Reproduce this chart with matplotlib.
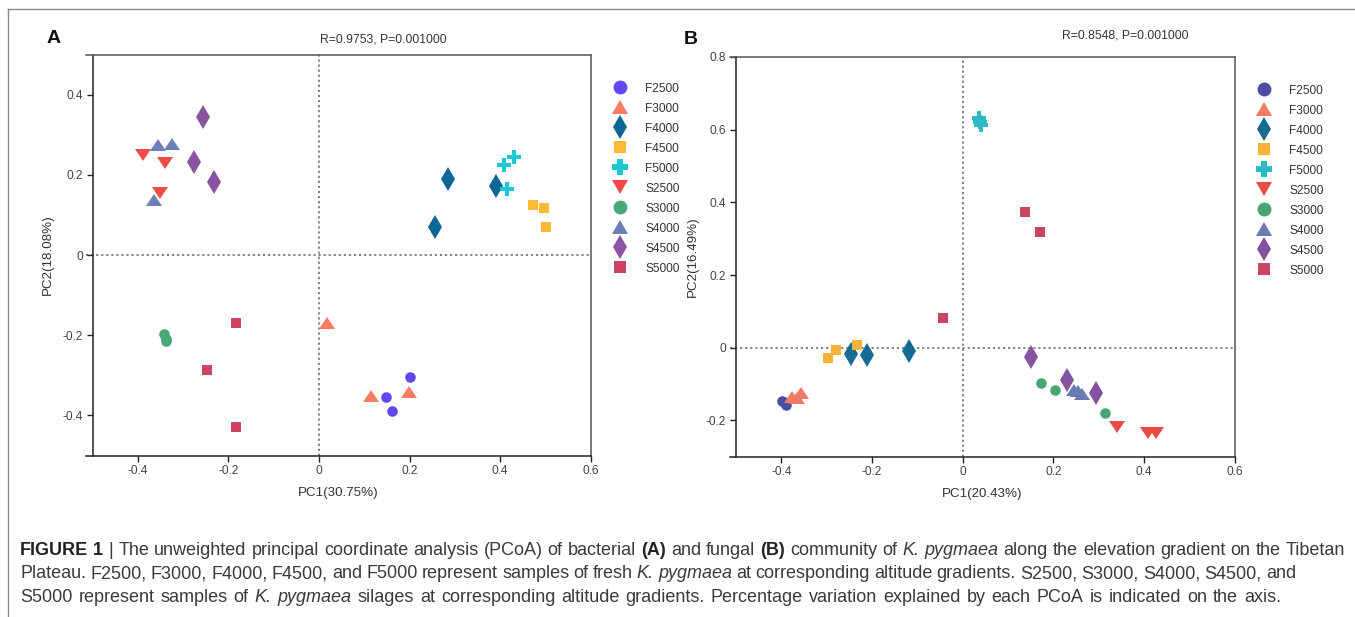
import re
import matplotlib
matplotlib.use("Agg")
import matplotlib.pyplot as plt
from matplotlib.markers import MarkerStyle
from matplotlib.transforms import Affine2D
from matplotlib.lines import Line2D

plt.rcParams['font.family'] = ['Liberation Sans', 'DejaVu Sans']

# ---------------- data ----------------
groups = ["F2500", "F3000", "F4000", "F4500", "F5000",
          "S2500", "S3000", "S4000", "S4500", "S5000"]

# Panel A (bacterial)
A_F2500_x = [0.201, 0.149, 0.162];   A_F2500_y = [-0.303, -0.353, -0.390]
A_F3000_x = [0.018, 0.114, 0.199];   A_F3000_y = [-0.169, -0.352, -0.341]
A_F4000_x = [0.284, 0.391, 0.256];   A_F4000_y = [0.189, 0.172, 0.071]
A_F4500_x = [0.472, 0.497, 0.500];   A_F4500_y = [0.125, 0.118, 0.069]
A_F5000_x = [0.409, 0.430, 0.416];   A_F5000_y = [0.224, 0.244, 0.164]
A_S2500_x = [-0.389, -0.341, -0.351]; A_S2500_y = [0.249, 0.229, 0.154]
A_S3000_x = [-0.342, -0.338, -0.337]; A_S3000_y = [-0.197, -0.214, -0.210]
A_S4000_x = [-0.355, -0.325, -0.364]; A_S4000_y = [0.274, 0.277, 0.138]
A_S4500_x = [-0.255, -0.275, -0.232]; A_S4500_y = [0.345, 0.233, 0.181]
A_S5000_x = [-0.183, -0.248, -0.183]; A_S5000_y = [-0.170, -0.288, -0.430]

# Panel B (fungal)
B_F2500_x = [-0.399, -0.390, -0.395]; B_F2500_y = [-0.146, -0.158, -0.150]
B_F3000_x = [-0.377, -0.357, -0.366]; B_F3000_y = [-0.135, -0.125, -0.139]
B_F4000_x = [-0.246, -0.210, -0.118]; B_F4000_y = [-0.018, -0.020, -0.009]
B_F4500_x = [-0.296, -0.280, -0.232]; B_F4500_y = [-0.027, -0.005, 0.007]
B_F5000_x = [0.037, 0.040, 0.039];    B_F5000_y = [0.631, 0.613, 0.620]
B_S2500_x = [0.341, 0.408, 0.426];    B_S2500_y = [-0.217, -0.234, -0.234]
B_S3000_x = [0.173, 0.204, 0.314];    B_S3000_y = [-0.097, -0.116, -0.180]
B_S4000_x = [0.245, 0.264, 0.255];    B_S4000_y = [-0.116, -0.126, -0.120]
B_S4500_x = [0.150, 0.229, 0.293];    B_S4500_y = [-0.025, -0.089, -0.124]
B_S5000_x = [0.138, 0.170, -0.044];   B_S5000_y = [0.374, 0.319, 0.082]

A_data = {
    "F2500": (A_F2500_x, A_F2500_y), "F3000": (A_F3000_x, A_F3000_y),
    "F4000": (A_F4000_x, A_F4000_y), "F4500": (A_F4500_x, A_F4500_y),
    "F5000": (A_F5000_x, A_F5000_y), "S2500": (A_S2500_x, A_S2500_y),
    "S3000": (A_S3000_x, A_S3000_y), "S4000": (A_S4000_x, A_S4000_y),
    "S4500": (A_S4500_x, A_S4500_y), "S5000": (A_S5000_x, A_S5000_y),
}
B_data = {
    "F2500": (B_F2500_x, B_F2500_y), "F3000": (B_F3000_x, B_F3000_y),
    "F4000": (B_F4000_x, B_F4000_y), "F4500": (B_F4500_x, B_F4500_y),
    "F5000": (B_F5000_x, B_F5000_y), "S2500": (B_S2500_x, B_S2500_y),
    "S3000": (B_S3000_x, B_S3000_y), "S4000": (B_S4000_x, B_S4000_y),
    "S4500": (B_S4500_x, B_S4500_y), "S5000": (B_S5000_x, B_S5000_y),
}

A_colors = ["#6247F5", "#FF7B62", "#0B6794", "#FFB935", "#1BC9D2",
            "#F24A4A", "#48A878", "#6E7EB9", "#8A54A2", "#CE4563"]
B_colors = ["#4B4EA3", "#F07A66", "#176A94", "#F6B33A", "#2BBBC6",
            "#E94A48", "#47A576", "#6B7BB1", "#8753A1", "#C94562"]

A_xticks = [-0.4, -0.2, 0, 0.2, 0.4, 0.6]
A_yticks = [-0.4, -0.2, 0, 0.2, 0.4]
B_xticks = [-0.4, -0.2, 0, 0.2, 0.4, 0.6]
B_yticks = [-0.2, 0, 0.2, 0.4, 0.6, 0.8]

# ---------------- styles ----------------
tri_up = MarkerStyle('^', transform=Affine2D().scale(1.0, 0.85))
tri_dn = MarkerStyle('v', transform=Affine2D().scale(1.0, 0.85))
markers = {"F2500": ('o', 7.6), "F3000": (tri_up, 11.0), "F4000": ('d', 11.8),
           "F4500": ('s', 7.4), "F5000": ('P', 10.0), "S2500": (tri_dn, 11.0),
           "S3000": ('o', 7.6), "S4000": (tri_up, 11.0), "S4500": ('d', 11.8),
           "S5000": ('s', 7.4)}
legend_ms = {"F2500": 10.0, "F3000": 11.5, "F4000": 12.0, "F4500": 8.6, "F5000": 11.6,
             "S2500": 11.5, "S3000": 10.0, "S4000": 11.5, "S4500": 12.0, "S5000": 8.6}

W, H = 1355, 617
fig = plt.figure(figsize=(W / 100, H / 100), dpi=100)
fig.patch.set_facecolor("white")


def px_axes(left, right, top, bottom):
    return fig.add_axes([left / W, 1 - bottom / H, (right - left) / W, (bottom - top) / H])


TXT = "#333333"


def style_axes(ax, xlim, ylim, xt, yt, xlabel, ylabel, ylab_x):
    ax.set_xlim(*xlim)
    ax.set_ylim(*ylim)
    ax.spines['left'].set_position(('data', -0.5))
    for s in ax.spines.values():
        s.set_linewidth(1.1)
        s.set_color("#222222")
    ax.spines['right'].set_color("#555555")
    ax.spines['top'].set_color("#555555")
    ax.axhline(0, color="#777777", lw=1.3, ls=(0, (1.2, 1.6)), zorder=1)
    ax.axvline(0, color="#777777", lw=1.3, ls=(0, (1.2, 1.6)), zorder=1)
    ax.set_xticks(xt)
    ax.set_xticklabels(["0" if v == 0 else f"{v:g}" for v in xt])
    ax.set_yticks(yt)
    ax.set_yticklabels(["0" if v == 0 else f"{v:g}" for v in yt])
    ax.tick_params(direction='out', length=4, width=1.0, color="#222222",
                   labelsize=8.6, labelcolor="#444444", pad=3)
    ax.set_xlabel(xlabel, fontsize=9.6, color=TXT, labelpad=7)
    ax.set_ylabel(ylabel, fontsize=9.6, color=TXT)
    ax.yaxis.set_label_coords(ylab_x, 0.5)


def draw_panel(ax, data, colors):
    for g, c in zip(groups, colors):
        xs, ys = data[g]
        m, ms = markers[g]
        ax.plot(xs, ys, ls='none', marker=m, ms=ms, color=c, mec=c, mew=0,
                label=g, zorder=3)


# Panel A
axA = px_axes(319 - 0.515 * 453, 319 + 0.6 * 453, 255 - 0.5 * 401, 255 + 0.5 * 401)
draw_panel(axA, A_data, A_colors)
style_axes(axA, (-0.515, 0.6), (-0.5, 0.5), A_xticks, A_yticks, "PC1(30.75%)", "PC2(18.08%)",
           -0.064)

# Panel B
axB = px_axes(962.7 - 0.513 * 453.5, 962.7 + 0.6 * 453.5, 347.7 - 0.8 * 363.5, 347.7 + 0.3 * 363.5)
draw_panel(axB, B_data, B_colors)
style_axes(axB, (-0.513, 0.6), (-0.3, 0.8), B_xticks, B_yticks, "PC1(20.43%)", "PC2(16.49%)",
           -0.062)

# Legends (handles sized like the reference key)
for ax, mx, top, colors in ((axA, 620, 82.5, A_colors), (axB, 1264, 84.5, B_colors)):
    handles = []
    for g, c in zip(groups, colors):
        m, _ = markers[g]
        handles.append(Line2D([], [], ls='none', marker=m, ms=legend_ms[g], color=c,
                              mec=c, mew=0))
    leg = ax.legend(handles, groups, loc='upper left',
                    bbox_to_anchor=((mx - 9) / W, 1 - top / H),
                    bbox_transform=fig.transFigure, frameon=False, fontsize=8.6,
                    handlelength=1.5, handletextpad=1.35, handleheight=0.7,
                    labelspacing=0.67, borderpad=0, borderaxespad=0)
    for t in leg.get_texts():
        t.set_color(TXT)

# Titles and panel letters
fig.text(383 / W, 1 - 42 / H, "R=0.9753, P=0.001000", ha='center', va='baseline',
         fontsize=8.8, color=TXT)
fig.text(1125.5 / W, 1 - 38 / H, "R=0.8548, P=0.001000", ha='center', va='baseline',
         fontsize=8.8, color=TXT)
fig.text(47 / W, 1 - 43 / H, "A", ha='left', va='baseline', fontsize=14, fontweight='bold',
         color="#111111")
fig.text(684 / W, 1 - 44 / H, "B", ha='left', va='baseline', fontsize=14, fontweight='bold',
         color="#111111")

# Figure frame lines (top and left)
fig.add_artist(Line2D([8 / W, 1.0], [1 - 9 / H, 1 - 9 / H], transform=fig.transFigure,
                      color="#8a8a8a", lw=1.0))
fig.add_artist(Line2D([8 / W, 8 / W], [1 - 9 / H, 0.0], transform=fig.transFigure,
                      color="#8a8a8a", lw=1.0))

# Caption with mixed styles
cap_lines = [
    [("FIGURE 1", 'bold', 'normal'), (" | The unweighted principal coordinate analysis (PCoA) of bacterial ", 'normal', 'normal'),
     ("(A)", 'bold', 'normal'), (" and fungal ", 'normal', 'normal'), ("(B)", 'bold', 'normal'),
     (" community of ", 'normal', 'normal'), ("K. pygmaea", 'normal', 'italic'),
     (" along the elevation gradient on the Tibetan", 'normal', 'normal')],
    [("Plateau. F2500, F3000, F4000, F4500, and F5000 represent samples of fresh ", 'normal', 'normal'),
     ("K. pygmaea", 'normal', 'italic'),
     (" at corresponding altitude gradients. S2500, S3000, S4000, S4500, and", 'normal', 'normal')],
    [("S5000 represent samples of ", 'normal', 'normal'), ("K. pygmaea", 'normal', 'italic'),
     (" silages at corresponding altitude gradients. Percentage variation explained by each PCoA is indicated on the axis.", 'normal', 'normal')],
]
cap_baselines = [555, 578.5, 602]
cap_ends = [1345, 1296, 1311]
cap_x0 = 20
cap_size = 12.95

renderer = fig.canvas.get_renderer()


def text_width(s, weight, style, size):
    t1 = fig.text(0, 0, "|" + s + "|", fontsize=size, fontweight=weight, fontstyle=style)
    t2 = fig.text(0, 0, "||", fontsize=size, fontweight=weight, fontstyle=style)
    w = t1.get_window_extent(renderer).width - t2.get_window_extent(renderer).width
    t1.remove()
    t2.remove()
    return w


for pieces, yb, xend in zip(cap_lines, cap_baselines, cap_ends):
    toks = []
    for s, wgt, sty in pieces:
        for tk in re.split(r'( )', s):
            if tk:
                toks.append((tk, wgt, sty, text_width(tk, wgt, sty, cap_size)))
    natural = sum(t[3] for t in toks)
    nsp = sum(1 for t in toks if t[0] == ' ')
    extra = (xend - cap_x0 - natural) / max(nsp, 1)
    extra = max(-0.8, min(1.0, extra))
    x = cap_x0
    for tk, wgt, sty, w in toks:
        if tk == ' ':
            x += w + extra
            continue
        col = "#222222" if wgt == 'bold' else "#3a3a3a"
        fig.text(x / W, 1 - yb / H, tk, fontsize=cap_size, fontweight=wgt, fontstyle=sty,
                 ha='left', va='baseline', color=col)
        x += w

fig.savefig("out.png", dpi=100, facecolor="white")
